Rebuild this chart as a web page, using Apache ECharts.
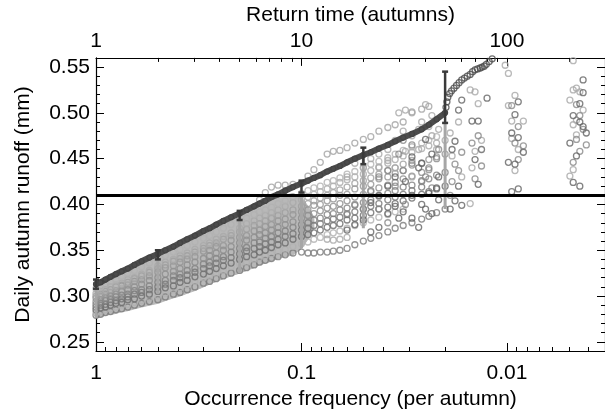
<!DOCTYPE html>
<html><head><meta charset="utf-8">
<script src="https://cdn.jsdelivr.net/npm/echarts@6/dist/echarts.min.js"></script>
<style>html,body{margin:0;padding:0;background:#fff}#c{width:605px;height:416px}</style>
</head><body><div id="c"></div>
<script>
// ---------- data ----------
const FREQ = [1,0.95,0.9,0.85,0.8,0.75,0.7,0.65,0.6,0.55,0.5,0.46,0.42,0.39,0.36,0.33,0.3,0.28,0.26,0.24,0.22,0.2,0.185,0.17,0.16,0.15,0.14,0.13,0.12,0.11,0.1,0.093,0.087,0.081,0.075,0.07,0.065,0.06,0.055,0.05,0.046,0.042,0.038,0.035,0.032,0.029,0.026,0.024,0.022,0.02];

const DARK_CURVE = [0.313,0.315,0.318,0.321,0.324,0.327,0.330,0.334,0.338,0.342,0.346,0.350,0.354,0.358,0.362,0.366,0.371,0.374,0.378,0.382,0.386,0.390,0.394,0.398,0.401,0.404,0.408,0.411,0.415,0.419,0.423,0.426,0.429,0.432,0.436,0.439,0.442,0.446,0.450,0.454,0.457,0.461,0.465,0.469,0.473,0.477,0.482,0.487,0.493,0.500];
const DARK_TAIL_FREQ = [0.0198,0.0196,0.0194,0.019,0.0186,0.0181,0.0176,0.0171,0.0166,0.0161,0.0156,0.0151,0.0147,0.0143,0.0139,0.0135,0.0132,0.0129,0.0126,0.0122,0.0118];
const DARK_TAIL_VAL  = [0.506,0.512,0.517,0.521,0.524,0.527,0.530,0.533,0.536,0.538,0.540,0.542,0.545,0.547,0.548,0.549,0.550,0.551,0.553,0.556,0.559];

// light-grey envelope of the dense ensemble cloud (for FREQ[0..32])
const BAND_LOW  = [0.276,0.277,0.279,0.280,0.281,0.283,0.284,0.286,0.288,0.290,0.292,0.295,0.298,0.300,0.303,0.306,0.310,0.313,0.316,0.319,0.322,0.325,0.328,0.331,0.334,0.336,0.338,0.341,0.343,0.345,0.352,0.362,0.374];
const BAND_HIGH = [0.309,0.311,0.314,0.317,0.320,0.323,0.326,0.330,0.334,0.338,0.342,0.346,0.350,0.354,0.358,0.362,0.367,0.370,0.374,0.378,0.382,0.386,0.390,0.394,0.397,0.400,0.404,0.407,0.410,0.412,0.408,0.398,0.386];

// individual ensemble curves (values at FREQ)
const LIGHT_TOP = [null,null,null,null,null,null,null,null,null,null,null,null,null,null,null,null,null,null,null,null,null,null,null,null,0.405,0.413,0.419,0.421,0.421,0.422,0.423,0.431,0.438,0.446,0.455,0.458,0.459,0.462,0.467,0.471,0.474,0.480,0.484,0.487,0.490,0.501,0.504,0.507,null,null];
const LIGHT_E1 = [0.308,0.310,0.313,0.316,0.318,0.322,0.325,0.328,0.332,0.336,0.340,0.344,0.348,0.351,0.355,0.359,0.363,0.366,0.370,0.374,0.378,0.382,0.385,0.389,0.392,0.394,0.397,0.401,0.404,0.408,0.412,0.415,0.418,0.420,0.424,0.426,0.429,0.433,0.436,0.440,0.444,0.447,0.451,0.455,0.459,0.463,0.467,0.470,0.474,null];
const LIGHT_D = [0.303,0.305,0.307,0.310,0.312,0.314,0.318,0.320,0.324,0.328,0.333,0.337,0.340,0.344,0.347,0.351,0.355,0.358,0.362,0.365,0.369,0.374,0.379,0.382,0.385,0.388,0.391,0.394,0.398,0.402,0.405,0.408,0.411,0.414,0.417,0.420,0.424,0.427,0.430,0.433,0.437,0.441,0.445,0.449,0.453,0.457,0.461,0.464,0.467,0.470];
const MIDL_E5 = [0.300,0.302,0.305,0.307,0.310,0.312,0.315,0.319,0.322,0.326,0.330,0.334,0.338,0.341,0.344,0.348,0.352,0.355,0.358,0.362,0.366,0.370,0.373,0.377,0.379,0.382,0.385,0.388,0.391,0.394,0.398,0.401,0.404,0.407,0.410,0.413,0.416,0.419,0.423,0.426,0.429,0.433,0.437,0.440,0.444,0.448,null,null,null,null];
const MID_A = [0.298,0.300,0.302,0.304,0.306,0.311,0.312,0.316,0.318,0.322,0.326,0.331,0.333,0.337,0.340,0.343,0.349,0.350,0.354,0.355,0.361,0.364,0.366,0.371,0.372,0.376,0.378,0.382,0.384,0.389,0.392,0.394,0.399,0.400,0.404,0.406,0.410,0.411,0.417,0.420,0.422,0.428,0.430,0.434,0.437,0.443,0.445,0.449,0.452,0.455];
const MID_E2 = [0.294,0.296,0.298,0.300,0.302,0.305,0.307,0.310,0.313,0.317,0.320,0.324,0.327,0.330,0.334,0.337,0.341,0.344,0.347,0.350,0.354,0.358,0.361,0.364,0.367,0.369,0.372,0.375,0.378,0.381,0.385,0.388,0.390,0.393,0.396,0.398,0.401,0.404,0.408,0.411,0.414,0.418,0.421,0.424,0.428,0.431,0.435,0.438,null,null];
const MID_B = [0.291,0.292,0.295,0.296,0.299,0.301,0.302,0.306,0.307,0.311,0.315,0.317,0.322,0.324,0.328,0.330,0.335,0.337,0.341,0.343,0.348,0.352,0.353,0.358,0.359,0.363,0.365,0.369,0.371,0.375,0.378,0.380,0.383,0.385,0.389,0.390,0.394,0.396,0.399,0.402,0.405,0.409,0.412,0.415,0.419,0.421,0.426,0.428,0.432,0.435];
const DARK_E3 = [0.288,0.290,0.291,0.293,0.295,0.297,0.299,0.302,0.304,0.307,0.310,0.313,0.317,0.320,0.323,0.326,0.330,0.333,0.336,0.339,0.342,0.346,0.349,0.352,0.354,0.357,0.359,0.362,0.365,0.368,0.372,0.374,0.377,0.379,0.382,0.384,0.386,0.389,0.392,0.395,0.398,0.401,0.405,0.408,0.411,0.415,0.419,null,null,null];
const DARK_C = [0.285,0.287,0.288,0.290,0.292,0.293,0.296,0.297,0.300,0.302,0.305,0.309,0.311,0.315,0.317,0.321,0.324,0.327,0.330,0.333,0.336,0.340,0.343,0.345,0.348,0.350,0.353,0.356,0.358,0.362,0.365,0.367,0.369,0.372,0.375,0.377,0.379,0.383,0.385,0.388,0.391,0.395,0.397,0.401,0.404,0.407,0.411,0.414,0.417,0.420];
const LIGHT_E4 = [0.282,0.283,0.285,0.286,0.288,0.290,0.291,0.293,0.295,0.298,0.300,0.303,0.307,0.309,0.312,0.316,0.320,0.322,0.325,0.328,0.332,0.335,0.337,0.340,0.342,0.344,0.346,0.349,0.351,0.354,0.357,0.359,0.362,0.364,0.367,0.369,0.371,0.374,0.377,0.380,0.383,0.386,0.389,0.392,0.395,null,null,null,null,null];
const LOW_ROW = [0.279,0.280,0.282,0.283,0.285,0.286,0.288,0.290,0.292,0.294,0.296,0.299,0.302,0.304,0.307,0.310,0.314,0.316,0.319,0.322,0.325,0.328,0.331,0.334,0.337,0.339,0.341,0.343,0.345,0.347,0.348,0.347,0.347,0.348,0.348,0.349,0.350,0.352,0.356,0.360,0.363,0.366,0.370,0.374,0.377,0.380,0.384,0.387,0.391,0.395];

// scattered points [frequency, runoff]
const LIGHT_PTS = [[0.00476,0.557],[0.00459,0.527],[0.00476,0.525],[0.00494,0.514],[0.00442,0.523],[0.00459,0.492],[0.00476,0.487],[0.00494,0.431],[0.00476,0.438],[0.00426,0.503],[0.00459,0.476],
 [0.0102,0.552],[0.00984,0.543],[0.00914,0.519],[0.00984,0.508],[0.00948,0.491],[0.00832,0.491],[0.00948,0.472],[0.00914,0.437],[0.00881,0.460],
 [0.0151,0.525],[0.0143,0.523],[0.0138,0.510],[0.0185,0.453],[0.0143,0.458],[0.0148,0.440],[0.0151,0.401],[0.0133,0.470],[0.0172,0.490],[0.0189,0.478],[0.0166,0.430],
 [0.0336,0.500],[0.0312,0.503],[0.029,0.500],[0.0249,0.509],[0.0269,0.482],[0.0232,0.497],[0.0312,0.458],[0.0269,0.460],[0.0232,0.475],[0.0215,0.482],[0.038,0.460],[0.042,0.455],[0.035,0.440],[0.029,0.430],
 [0.06,0.430],[0.055,0.445],[0.05,0.440],[0.046,0.450],[0.042,0.440],[0.038,0.448],[0.032,0.480],[0.026,0.490],[0.024,0.485],[0.022,0.460],[0.035,0.470],[0.029,0.475],
 [0.075,0.362],[0.07,0.361],[0.065,0.362],[0.06,0.364]];
const MID_PTS = [[0.00459,0.509],[0.00442,0.497],[0.00426,0.482],[0.00411,0.465],[0.00459,0.471],[0.00442,0.458],[0.00476,0.446],
 [0.00948,0.508],[0.00881,0.485],[0.00914,0.467],[0.00832,0.464],[0.00881,0.449],
 [0.0138,0.475],[0.0148,0.467],[0.0179,0.444],[0.0172,0.437],[0.0133,0.442],[0.0143,0.428],[0.0189,0.410],[0.0166,0.457],[0.0185,0.425],
 [0.0336,0.455],[0.029,0.445],[0.0215,0.460],[0.0249,0.430],[0.0312,0.400],[0.0232,0.418],[0.042,0.395],[0.038,0.380],
 [0.06,0.390],[0.055,0.400],[0.05,0.395],[0.046,0.415],[0.042,0.430],[0.038,0.437],[0.035,0.420],[0.032,0.437],[0.026,0.425],[0.024,0.440],[0.022,0.450],[0.029,0.465],[0.032,0.470]];
const DARK_PTS = [[0.00426,0.536],[0.00426,0.522],[0.00442,0.510],[0.00476,0.497],[0.00442,0.490],[0.00494,0.467],[0.00459,0.453],[0.00476,0.424],[0.00426,0.485],[0.00442,0.420],[0.00411,0.478],
 [0.00881,0.512],[0.00914,0.498],[0.00948,0.478],[0.00881,0.473],[0.00914,0.444],[0.00984,0.446],[0.00881,0.417],[0.00948,0.414],[0.00832,0.457],
 [0.0125,0.516],[0.0166,0.514],[0.0172,0.503],[0.0148,0.491],[0.0138,0.491],[0.0133,0.460],[0.0143,0.449],[0.0138,0.422],[0.0179,0.469],[0.0185,0.460],[0.0166,0.399],[0.0179,0.404],[0.0189,0.395],[0.0172,0.420],
 [0.0249,0.471],[0.0232,0.455],[0.0269,0.440],[0.0215,0.430],[0.0312,0.425],[0.029,0.410],[0.0249,0.395],[0.0215,0.405],[0.0232,0.390],[0.0336,0.385],[0.0269,0.375],
 [0.06,0.372],[0.055,0.378],[0.05,0.383],[0.046,0.370],[0.042,0.375],[0.038,0.390],[0.035,0.398],[0.032,0.392],[0.029,0.385],[0.026,0.400],[0.024,0.412],[0.022,0.418],[0.026,0.445],[0.029,0.452],[0.035,0.430],[0.038,0.420],[0.042,0.410],[0.046,0.402]];

// error bars [frequency, low, high]
const DARK_ERR  = [[1,0.308,0.318],[0.5,0.340,0.350],[0.2,0.383,0.393],[0.1,0.413,0.426],[0.05,0.444,0.462],[0.02,0.489,0.545]];
const LIGHT_ERR = [[1,0.276,0.308],[0.5,0.302,0.340],[0.2,0.325,0.383],[0.1,0.352,0.413],[0.05,0.374,0.453],[0.02,0.395,0.489]];

const HLINE = 0.41;

// axis ticks / labels
const X_TICKS = [1, 0.1, 0.01];
const X_MINOR = [0.9,0.8,0.7,0.6,0.5,0.4,0.3,0.2,0.09,0.08,0.07,0.06,0.05,0.04,0.03,0.02,0.009,0.008,0.007,0.006,0.005,0.004];
const TOP_TICKS = [1, 10, 100];
const TOP_MINOR = [2,3,4,5,6,7,8,9,20,30,40,50,60,70,80,90,200];
const Y_TICKS = [0.25,0.30,0.35,0.40,0.45,0.50,0.55];
const Y_MINOR = [0.26,0.27,0.28,0.29,0.31,0.32,0.33,0.34,0.36,0.37,0.38,0.39,0.41,0.42,0.43,0.44,0.46,0.47,0.48,0.49,0.51,0.52,0.53,0.54];

const X_MIN = 1/300, X_MAX = 1, Y_MIN = 0.24, Y_MAX = 0.56;

// ---------- chart ----------
const FONT = 'Liberation Sans';
const chart = echarts.init(document.getElementById('c'), null, {renderer: 'canvas'});

function pairs(arr) { return FREQ.map((f, i) => [f, arr[i]]).filter(p => p[1] != null); }
function scat(name, data, color, z) {
  return {type: 'scatter', name, data, symbol: 'circle', symbolSize: 6, z: z || 2,
    itemStyle: {color: 'rgba(0,0,0,0)', borderColor: color, borderWidth: 1.3},
    emphasis: {disabled: true}, silent: true};
}
function errSeries(data, color, width, cap, z) {
  return {type: 'custom', data, z, silent: true,
    renderItem: (params, api) => {
      const f = api.value(0), lo = api.value(1), hi = api.value(2);
      const a = api.coord([f, lo]), b = api.coord([f, hi]);
      const ch = [{type: 'line', shape: {x1: a[0], y1: a[1], x2: b[0], y2: b[1]}, style: {stroke: color, lineWidth: width}}];
      if (cap) {
        ch.push({type: 'line', shape: {x1: a[0]-cap, y1: a[1], x2: a[0]+cap, y2: a[1]}, style: {stroke: color, lineWidth: width}});
        ch.push({type: 'line', shape: {x1: b[0]-cap, y1: b[1], x2: b[0]+cap, y2: b[1]}, style: {stroke: color, lineWidth: width}});
      }
      return {type: 'group', children: ch};
    }};
}
const bandSeries = {type: 'custom', data: [[1, Y_MIN]], z: 1, silent: true,
  renderItem: (params, api) => {
    const pts = [];
    for (let i = 0; i < BAND_HIGH.length; i++) pts.push(api.coord([FREQ[i], BAND_HIGH[i]]));
    for (let i = BAND_LOW.length - 1; i >= 0; i--) pts.push(api.coord([FREQ[i], BAND_LOW[i]]));
    return {type: 'polygon', shape: {points: pts}, style: {fill: '#b8b8b8', stroke: '#b8b8b8', lineWidth: 1}};
  }};

const axisLineStyle = {color: '#000', width: 1.2};
const labelStyle = {fontFamily: FONT, fontSize: 21, color: '#000'};
const nameStyle = {fontFamily: FONT, fontSize: 21, color: '#000'};
const fmtNum = v => String(parseFloat(Number(v).toPrecision(3)));

const option = {
  animation: false,
  backgroundColor: '#fff',
  grid: {left: 96, top: 54, width: 511, height: 297, containLabel: false},
  xAxis: [
    {type: 'log', position: 'bottom', inverse: true, min: X_MIN, max: X_MAX, logBase: 10,
     axisLine: {show: true, lineStyle: axisLineStyle},
     axisTick: {show: true, inside: true, length: 8, customValues: X_TICKS, lineStyle: {color: '#000'}},
     axisLabel: {show: true, margin: 12, customValues: X_TICKS, formatter: fmtNum, ...labelStyle},
     splitLine: {show: false},
     name: 'Occurrence frequency (per autumn)', nameLocation: 'middle', nameGap: 38, nameTextStyle: nameStyle},
    {type: 'log', position: 'bottom', inverse: true, min: X_MIN, max: X_MAX, logBase: 10,
     axisLine: {show: false}, axisLabel: {show: false}, splitLine: {show: false},
     axisTick: {show: true, inside: true, length: 4, customValues: X_MINOR, lineStyle: {color: '#000'}}},
    {type: 'log', position: 'top', min: 1, max: 300, logBase: 10,
     axisLine: {show: true, lineStyle: axisLineStyle},
     axisTick: {show: true, inside: true, length: 8, customValues: TOP_TICKS, lineStyle: {color: '#000'}},
     axisLabel: {show: true, margin: 6, customValues: TOP_TICKS, formatter: fmtNum, ...labelStyle},
     splitLine: {show: false},
     name: 'Return time (autumns)', nameLocation: 'middle', nameGap: 30, nameTextStyle: nameStyle},
    {type: 'log', position: 'top', min: 1, max: 300, logBase: 10,
     axisLine: {show: false}, axisLabel: {show: false}, splitLine: {show: false},
     axisTick: {show: true, inside: true, length: 4, customValues: TOP_MINOR, lineStyle: {color: '#000'}}}
  ],
  yAxis: [
    {type: 'value', position: 'left', min: Y_MIN, max: Y_MAX,
     axisLine: {show: true, lineStyle: axisLineStyle},
     axisTick: {show: true, inside: true, length: 8, customValues: Y_TICKS, lineStyle: {color: '#000'}},
     axisLabel: {show: true, margin: 6, customValues: Y_TICKS, formatter: v => Number(v).toFixed(2), ...labelStyle},
     splitLine: {show: false},
     name: 'Daily autumn runoff (mm)', nameLocation: 'middle', nameGap: 62, nameRotate: 90, nameTextStyle: nameStyle},
    {type: 'value', position: 'left', min: Y_MIN, max: Y_MAX,
     axisLine: {show: false}, axisLabel: {show: false}, splitLine: {show: false},
     axisTick: {show: true, inside: true, length: 4, customValues: Y_MINOR, lineStyle: {color: '#000'}}},
    {type: 'value', position: 'right', min: Y_MIN, max: Y_MAX,
     axisLine: {show: true, lineStyle: axisLineStyle}, axisLabel: {show: false}, splitLine: {show: false},
     axisTick: {show: true, inside: true, length: 8, customValues: Y_TICKS, lineStyle: {color: '#000'}}},
    {type: 'value', position: 'right', min: Y_MIN, max: Y_MAX,
     axisLine: {show: false}, axisLabel: {show: false}, splitLine: {show: false},
     axisTick: {show: true, inside: true, length: 4, customValues: Y_MINOR, lineStyle: {color: '#000'}}}
  ],
  series: [
    bandSeries,
    scat('lowRow', pairs(LOW_ROW), '#7a7a7a', 2),
    scat('lightE4', pairs(LIGHT_E4), '#b0b0b0', 2),
    scat('darkC', pairs(DARK_C), '#6c6c6c', 2),
    scat('darkE3', pairs(DARK_E3), '#747474', 2),
    scat('midB', pairs(MID_B), '#808080', 2),
    scat('midE2', pairs(MID_E2), '#8c8c8c', 2),
    scat('midA', pairs(MID_A), '#939393', 2),
    scat('midlE5', pairs(MIDL_E5), '#9e9e9e', 2),
    scat('lightD', pairs(LIGHT_D), '#a9a9a9', 2),
    scat('lightE1', pairs(LIGHT_E1), '#b2b2b2', 2),
    scat('lightTop', pairs(LIGHT_TOP), '#a3a3a3', 2),
    scat('lightPts', LIGHT_PTS, '#a8a8a8', 2),
    scat('midPts', MID_PTS, '#888888', 2),
    scat('darkPts', DARK_PTS, '#646464', 2),
    errSeries(LIGHT_ERR, '#a6a6a6', 3, 0, 3),
    {type: 'line', name: 'darkCurve', data: pairs(DARK_CURVE), z: 4, silent: true,
     symbol: 'circle', symbolSize: 5, showSymbol: true,
     lineStyle: {color: '#4c4c4c', width: 6},
     itemStyle: {color: '#4c4c4c', borderColor: '#444444', borderWidth: 1.2},
     markLine: {silent: true, symbol: 'none', label: {show: false},
       lineStyle: {color: '#000', width: 3, type: 'solid'}, data: [{yAxis: HLINE}], z: 10}},
    scat('darkTail', DARK_TAIL_FREQ.map((f, i) => [f, DARK_TAIL_VAL[i]]), '#4a4a4a', 4),
    errSeries(DARK_ERR, '#3a3a3a', 2.5, 3, 5)
  ]
};
chart.setOption(option);
</script></body></html>
